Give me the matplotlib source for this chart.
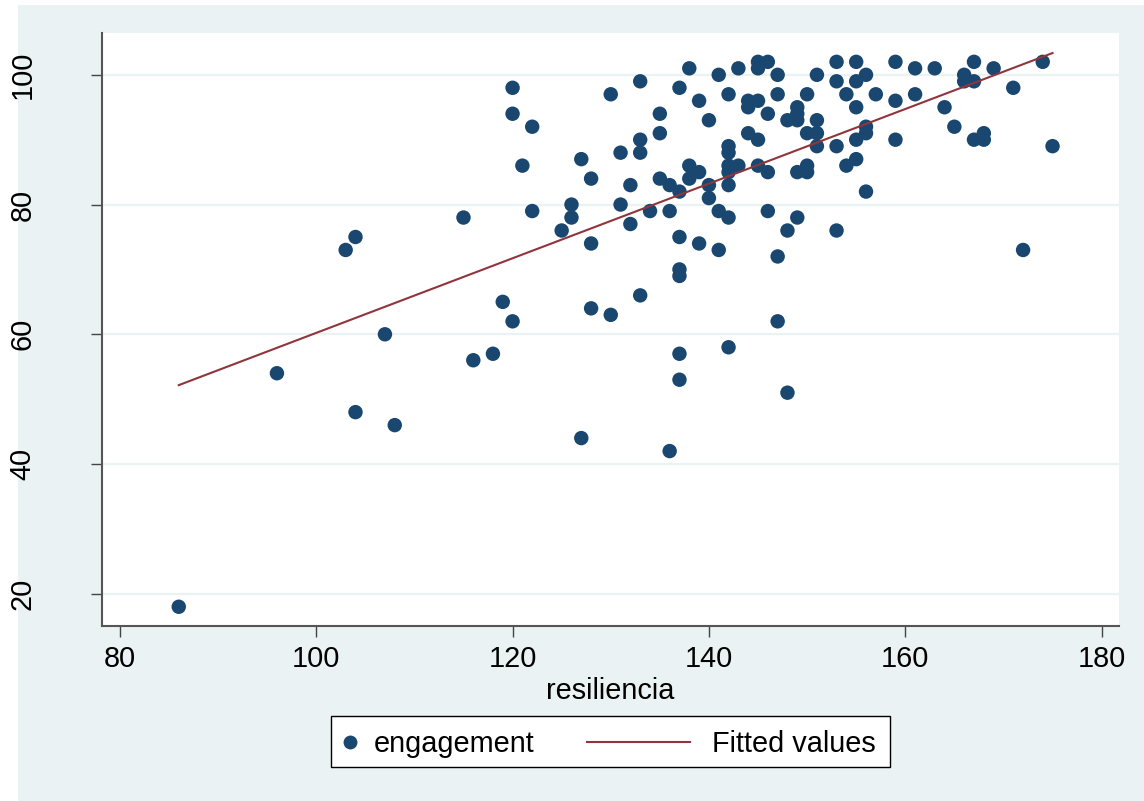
import numpy as np
import matplotlib
matplotlib.use("Agg")
import matplotlib.pyplot as plt
from matplotlib.patches import Rectangle
from matplotlib.lines import Line2D

plt.rcParams['font.family'] = ['Liberation Sans', 'DejaVu Sans']

# ---- data (resiliencia, engagement) ----
resiliencia = [
    86, 96, 103, 104, 104, 107, 108, 115, 116, 118, 119,
    120, 120, 120, 121, 122, 122, 125, 126, 126, 127, 127,
    128, 128, 128, 130, 130, 131, 131, 132, 132,
    133, 133, 133, 133, 134, 135, 135, 135, 136, 136, 136,
    137, 137, 137, 137, 137, 137, 137,
    138, 138, 138, 139, 139, 139, 140, 140, 140, 141, 141, 141,
    142, 142, 142, 142, 142, 142, 142, 142,
    143, 143, 144, 144, 144, 145, 145, 145, 145, 145,
    146, 146, 146, 146, 147, 147, 147, 147, 148, 148, 148,
    149, 149, 149, 149, 149, 150, 150, 150, 150, 151, 151, 151, 151,
    153, 153, 153, 153, 154, 154, 155, 155, 155, 155, 155,
    156, 156, 156, 156, 157, 159, 159, 159, 161, 161, 163, 164, 165,
    166, 166, 167, 167, 167, 168, 168, 169, 171, 172, 174, 175,
]
engagement = [
    18, 54, 73, 75, 48, 60, 46, 78, 56, 57, 65,
    98, 94, 62, 86, 92, 79, 76, 80, 78, 87, 44,
    84, 74, 64, 97, 63, 88, 80, 83, 77,
    99, 90, 88, 66, 79, 94, 91, 84, 83, 79, 42,
    98, 82, 75, 70, 69, 57, 53,
    101, 86, 84, 96, 85, 74, 93, 83, 81, 100, 79, 73,
    97, 89, 88, 86, 85, 83, 78, 58,
    101, 86, 96, 95, 91, 102, 101, 96, 90, 86,
    102, 94, 85, 79, 100, 97, 72, 62, 93, 76, 51,
    95, 94, 93, 85, 78, 97, 91, 86, 85, 100, 93, 91, 89,
    102, 99, 89, 76, 97, 86, 102, 99, 95, 90, 87,
    100, 92, 91, 82, 97, 102, 96, 90, 101, 97, 101, 95, 92,
    100, 99, 102, 99, 90, 91, 90, 101, 98, 73, 102, 89,
]
x_ticks = [80, 100, 120, 140, 160, 180]
y_ticks = [20, 40, 60, 80, 100]
legend_labels = ["engagement", "Fitted values"]
x_title = "resiliencia"

W, H = 1144, 801
NAVY = "#1A476F"
MAROON = "#90353B"
BG = "#EAF2F3"
FS = 20.8

fig = plt.figure(figsize=(W / 100, H / 100), dpi=100)
fig.patch.set_facecolor("white")
# Stata outer (graph region) background
fig.patches.append(Rectangle((18 / W, 0), 1 - 18 / W, 1 - 4.5 / H,
                             transform=fig.transFigure, fc=BG, ec="none", zorder=-10))

left, right, top, bottom = 101.7, 1119.3, 33.3, 625.7
ax = fig.add_axes([left / W, 1 - bottom / H, (right - left) / W, (bottom - top) / H])
ax.set_facecolor("white")

x = np.array(resiliencia, dtype=float)
y = np.array(engagement, dtype=float)

ax.scatter(x, y, s=108, color=NAVY, edgecolors="none", zorder=3)
b, a = np.polyfit(x, y, 1)
xf = np.array([x.min(), x.max()])
ax.plot(xf, a + b * xf, color=MAROON, lw=1.5, zorder=4)

ax.set_xlim(78.15, 181.8)
ax.set_ylim(15.08, 106.4)
ax.set_xticks(x_ticks)
ax.set_yticks(y_ticks)
ax.yaxis.grid(True, color=BG, lw=1.6, zorder=0)
ax.set_axisbelow(True)

for s in ["top", "right"]:
    ax.spines[s].set_visible(False)
for s in ["left", "bottom"]:
    ax.spines[s].set_color("#555555")
    ax.spines[s].set_linewidth(1.5)

ax.tick_params(axis="both", length=8, width=1, color="#444444", labelsize=FS, labelcolor="black")
ax.tick_params(axis="x", pad=6)
ax.tick_params(axis="y", pad=39)
for lab in ax.get_yticklabels():
    lab.set_rotation(90)
    lab.set_va("center")
    lab.set_ha("right")

ax.set_xlabel(x_title, fontsize=FS, labelpad=3)

# ---- legend box (Stata style) ----
lx0, lx1, ly0, ly1 = 331, 890, 716, 767
fig.patches.append(Rectangle((lx0 / W, 1 - ly1 / H), (lx1 - lx0) / W, (ly1 - ly0) / H,
                             transform=fig.transFigure, fc="white", ec="black", lw=1.0, zorder=5))
ymid = 1 - 741.7 / H
fig.add_artist(Line2D([350 / W], [ymid], marker="o", ms=10, color=NAVY, mec="none",
                      transform=fig.transFigure, zorder=6))
fig.add_artist(Line2D([587 / W, 690 / W], [ymid, ymid], color=MAROON, lw=1.5,
                      transform=fig.transFigure, zorder=6))
fig.text(374 / W, 1 - 752 / H, legend_labels[0], fontsize=FS, va="baseline", ha="left", zorder=6)
fig.text(712 / W, 1 - 752 / H, legend_labels[1], fontsize=FS, va="baseline", ha="left", zorder=6)

fig.savefig("out.png", dpi=100, facecolor=fig.get_facecolor())
